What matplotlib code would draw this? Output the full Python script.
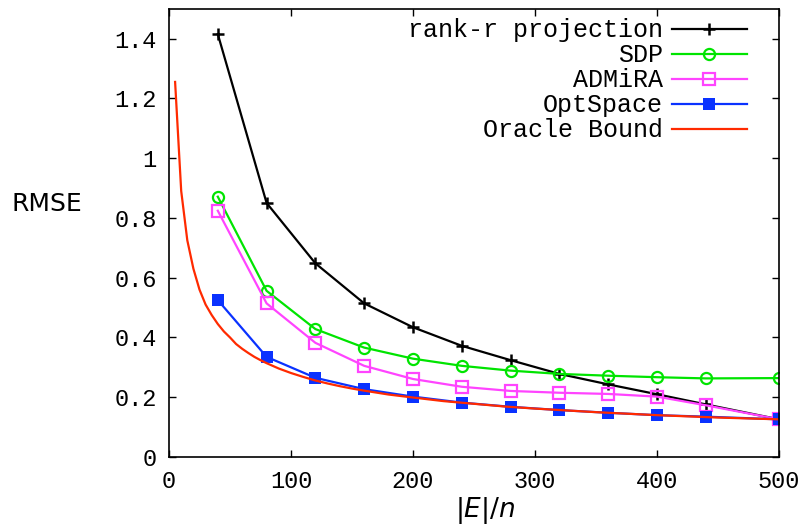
import matplotlib
matplotlib.use("Agg")
import matplotlib.pyplot as plt
from matplotlib.ticker import FuncFormatter

# sample sizes |E|/n
x_pts = [40, 80, 120, 160, 200, 240, 280, 320, 360, 400, 440, 500]

rank_r = [1.415, 0.85, 0.648, 0.514, 0.434, 0.372, 0.324, 0.278, 0.243, 0.21, 0.176, 0.126]
sdp = [0.871, 0.556, 0.428, 0.366, 0.329, 0.305, 0.289, 0.278, 0.272, 0.267, 0.263, 0.264]
admira = [0.824, 0.514, 0.382, 0.305, 0.261, 0.235, 0.221, 0.215, 0.211, 0.202, 0.173, 0.126]
optspace = [0.525, 0.335, 0.265, 0.227, 0.202, 0.182, 0.168, 0.157, 0.148, 0.140, 0.135, 0.126]

# oracle bound
x_oracle = [5, 10, 15, 20, 25, 30, 35, 40, 45, 50, 55, 60, 65, 70, 75, 80, 90, 100,
            110, 120, 130, 140, 150, 160, 180, 200, 225, 250, 275, 300, 350, 400,
            450, 500]
oracle = [1.255, 0.89, 0.725, 0.63, 0.56, 0.51, 0.475, 0.445, 0.42, 0.40, 0.378,
          0.362, 0.348, 0.335, 0.324, 0.314, 0.296, 0.281, 0.268, 0.256, 0.246,
          0.237, 0.229, 0.222, 0.209, 0.199, 0.187, 0.178, 0.169, 0.162, 0.15,
          0.14, 0.132, 0.126]

mono = "Liberation Mono"

fig = plt.figure(figsize=(8.1, 5.27), dpi=100)
ax = fig.add_axes([169 / 810, 1 - 457 / 527, 610 / 810, 448.3 / 527])

lw = 1.6
ax.plot(x_pts, rank_r, color="black", lw=lw, marker="+", ms=9, mew=1.8,
        label="rank-r projection")
ax.plot(x_pts, sdp, color="#00e400", lw=lw, marker="o", ms=8, mfc="none", mew=1.6,
        label="SDP")
ax.plot(x_pts, admira, color="#ff44ff", lw=lw, marker="s", ms=8, mfc="none", mew=1.6,
        label="ADMiRA")
ax.plot(x_pts, optspace, color="#0a32ff", lw=lw, marker="s", ms=8, mew=0,
        label="OptSpace")
ax.plot(x_oracle, oracle, color="#ff2a00", lw=lw, label="Oracle Bound")

ax.set_xlim(0, 500)
ax.set_ylim(0, 1.5)
ax.set_xticks([0, 100, 200, 300, 400, 500])
ax.set_yticks([0, 0.2, 0.4, 0.6, 0.8, 1.0, 1.2, 1.4])
ax.yaxis.set_major_formatter(FuncFormatter(lambda v, p: "%g" % round(v, 2)))
ax.tick_params(direction="in", length=5, width=1, top=True, right=True,
               labelsize=17, pad=9)
for lab in ax.get_xticklabels() + ax.get_yticklabels():
    lab.set_family(mono)
for s in ax.spines.values():
    s.set_linewidth(1.2)

leg = ax.legend(loc="upper right", bbox_to_anchor=(0.972, 1.012), frameon=False,
                markerfirst=False, handlelength=3.0, labelspacing=0.04,
                handletextpad=0.35, borderaxespad=0.2,
                prop={"family": mono, "size": 18})

fig.text(47 / 810, 1 - 204 / 527, "RMSE", fontsize=18, ha="center", va="center")
fig.text(485 / 810, 1 - 510 / 527, "$|E|/n$", fontsize=19, ha="center", va="center")

fig.savefig("out.png", dpi=100)
